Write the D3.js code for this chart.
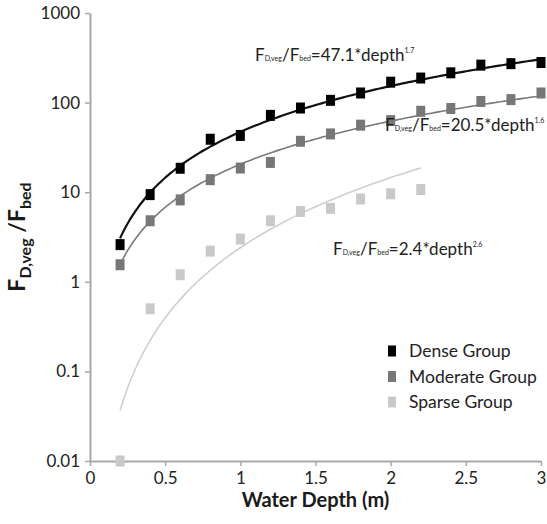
<!DOCTYPE html>
<html>
<head>
<meta charset="utf-8">
<script src="https://cdn.jsdelivr.net/npm/d3@7"></script>
<style>
  body { margin: 0; background: #fff; }
  svg { display: block; }
  text { font-family: Lato, "Open Sans", sans-serif; }
</style>
</head>
<body>
<svg id="chart" width="547" height="524"></svg>
<script>
// ---- data ----
const depth = [0.2, 0.4, 0.6, 0.8, 1.0, 1.2, 1.4, 1.6, 1.8, 2.0, 2.2, 2.4, 2.6, 2.8, 3.0];
const dense = [2.6, 9.4, 18.5, 39, 43, 72, 87, 106, 128, 169, 188, 215, 262, 272, 280];
const moderate = [1.55, 4.8, 8.2, 13.8, 18.6, 21.5, 37, 44.7, 56, 63, 80, 86, 103, 108, 128];
const sparse = [0.01, 0.5, 1.2, 2.2, 3.0, 4.8, 6.1, 6.6, 8.4, 9.6, 10.7];
const seriesNames = ["Dense Group", "Moderate Group", "Sparse Group"];
// power-law fit shown on chart: F = coef * depth^exp
const fitCoef = [47.1, 20.5, 2.4];
const fitExp = [1.7, 1.6, 2.6];
const fitEnd = [3.0, 3.0, 2.2];
const fitLabels = ["47.1", "20.5", "2.4"];
const fitExpLabels = ["1.7", "1.6", "2.6"];
const xTicks = [0, 0.5, 1, 1.5, 2, 2.5, 3];
const xTickLabels = ["0", "0.5", "1", "1.5", "2", "2.5", "3"];
const yTicks = [0.01, 0.1, 1, 10, 100, 1000];
const yTickLabels = ["0.01", "0.1", "1", "10", "100", "1000"];

const colors = ["#000000", "#777777", "#c9c9c9"];
const lineColors = ["#111111", "#7a7a7a", "#cfcfcf"];
const lineWidths = [2.2, 1.6, 1.6];

const svg = d3.select("#chart");
const x = d3.scaleLinear().domain([0, 3]).range([90, 541]);
const y = d3.scaleLog().domain([0.01, 1000]).range([461, 13]);

// axes
const axisColor = "#a8a8a8";
const gx = svg.append("g").attr("transform", `translate(0,${y(0.01)})`)
  .call(d3.axisBottom(x).tickValues(xTicks).tickFormat((d, i) => xTickLabels[i]).tickSize(5).tickSizeOuter(0).tickPadding(6));
const gy = svg.append("g").attr("transform", `translate(${x(0)},0)`)
  .call(d3.axisLeft(y).tickValues(yTicks).tickFormat((d, i) => yTickLabels[i]).tickSize(5).tickSizeOuter(0).tickPadding(5));
[gx, gy].forEach(g => {
  g.select(".domain").attr("stroke", axisColor).attr("stroke-width", 2);
  g.selectAll(".tick line").attr("stroke", axisColor).attr("stroke-width", 1.5);
  g.selectAll(".tick text").attr("fill", "#222").style("font-size", "17px")
    .style("font-family", "Lato, 'Open Sans', sans-serif");
});

// fit curves
const dataSets = [dense, moderate, sparse];
const line = d3.line().x(d => x(d[0])).y(d => y(d[1])).curve(d3.curveMonotoneX);
[2, 1, 0].forEach(i => {
  const pts = d3.range(0.2, fitEnd[i] + 1e-9, 0.02).map(d => [d, fitCoef[i] * Math.pow(d, fitExp[i])]);
  svg.append("path").datum(pts).attr("d", line)
    .attr("fill", "none").attr("stroke", lineColors[i]).attr("stroke-width", lineWidths[i]);
});

// markers
const mw = 9, mh = 11;
[2, 1, 0].forEach(i => {
  svg.append("g").selectAll("rect").data(dataSets[i]).join("rect")
    .attr("x", (d, j) => x(depth[j]) - mw / 2)
    .attr("y", d => y(d) - mh / 2)
    .attr("width", mw).attr("height", mh)
    .attr("fill", colors[i]);
});

// annotations
const annPos = [[255, 61], [385, 131], [333, 255]];
annPos.forEach((p, i) => {
  const t = svg.append("text").attr("x", p[0]).attr("y", p[1]).attr("fill", "#222").style("font-size", "17px");
  t.append("tspan").text("F");
  t.append("tspan").style("font-size", "7px").text("D,veg");
  t.append("tspan").text("/F");
  t.append("tspan").style("font-size", "7px").text("bed");
  t.append("tspan").text("=" + fitLabels[i] + "*depth");
  t.append("tspan").style("font-size", "7px").attr("dy", -8).text(fitExpLabels[i]);
});

// legend
const leg = svg.append("g");
seriesNames.forEach((n, i) => {
  const cy = 351 + i * 25.5;
  leg.append("rect").attr("x", 388).attr("y", cy - 5.5).attr("width", 8).attr("height", 11).attr("fill", colors[i]);
  leg.append("text").attr("x", 409).attr("y", cy).attr("dy", "0.35em").attr("fill", "#222")
    .style("font-size", "17.5px").text(n);
});

// axis titles
svg.append("text").attr("x", x(1.5)).attr("y", 507).attr("text-anchor", "middle")
  .attr("fill", "#1a1a1a").style("font-size", "20px").style("font-weight", "bold").text("Water Depth (m)");

const yt = svg.append("text").attr("transform", `translate(25,${(y(0.01) + y(1000)) / 2}) rotate(-90)`)
  .attr("text-anchor", "middle").attr("fill", "#1a1a1a").style("font-weight", "bold").style("font-size", "23px");
yt.append("tspan").text("F");
yt.append("tspan").style("font-size", "16px").attr("dy", 6).text("D,veg");
yt.append("tspan").attr("dy", -6).text(" /F");
yt.append("tspan").style("font-size", "16px").attr("dy", 6).text("bed");
</script>
</body>
</html>
